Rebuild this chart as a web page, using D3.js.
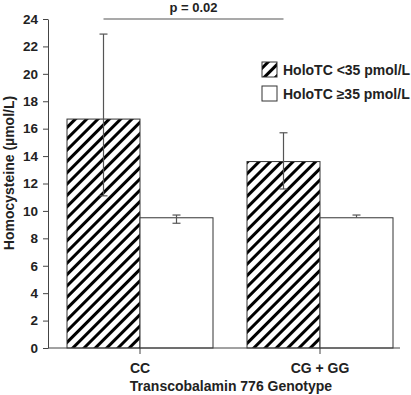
<!DOCTYPE html>
<html>
<head>
<meta charset="utf-8">
<script src="https://cdn.jsdelivr.net/npm/d3@7"></script>
<style>
  body { margin: 0; background: #fff; }
  text { font-family: "Liberation Sans", Arial, Helvetica, sans-serif; font-weight: bold; }
</style>
</head>
<body>
<svg id="chart" width="411" height="395"></svg>
<script>
var groups = ["CC", "CG + GG"];
var series = ["HoloTC <35 pmol/L", "HoloTC \u226535 pmol/L"];
var means = [[16.7, 9.5], [13.6, 9.5]];
var errHi = [[22.9, 9.7], [15.7, 9.7]];
var errLo = [[11.1, 9.1], [11.6, 9.5]];
var yTicks = [0, 2, 4, 6, 8, 10, 12, 14, 16, 18, 20, 22, 24];
var pText = "p = 0.02";

var svg = d3.select("#chart");
var defs = svg.append("defs");
var pat = defs.append("pattern")
  .attr("id", "hatch")
  .attr("patternUnits", "userSpaceOnUse")
  .attr("width", 8).attr("height", 8)
  .attr("patternTransform", "rotate(45)");
pat.append("rect").attr("width", 8).attr("height", 8).attr("fill", "#fff");
pat.append("rect").attr("x", 0).attr("width", 3).attr("height", 8).attr("fill", "#000");

var y = d3.scaleLinear().domain([0, 24]).range([348, 19]);
var x0 = d3.scaleBand().domain(groups).range([50, 410]);
var barW = 73;

function x1(gi) {
  var g = groups[gi];
  var c = x0(g) + x0.bandwidth() / 2;
  return d3.scaleBand().domain(series).range([c - barW, c + barW]);
}

// bars
var data = [];
groups.forEach(function (g, gi) {
  series.forEach(function (s, si) {
    data.push({ g: gi, s: si, v: means[gi][si], hi: errHi[gi][si], lo: errLo[gi][si] });
  });
});

svg.append("g").selectAll("rect")
  .data(data)
  .enter()
  .append("rect")
  .attr("x", function (d) { return x1(d.g)(series[d.s]); })
  .attr("y", function (d) { return y(d.v); })
  .attr("width", barW)
  .attr("height", function (d) { return y(0) - y(d.v); })
  .attr("fill", function (d) { return d.s === 0 ? "url(#hatch)" : "#fff"; })
  .attr("stroke", "#333")
  .attr("stroke-width", 1);

// error bars
var eb = svg.append("g").attr("stroke", "#555").attr("stroke-width", 1.2);
data.forEach(function (d) {
  var cx = x1(d.g)(series[d.s]) + barW / 2;
  eb.append("line").attr("x1", cx).attr("x2", cx).attr("y1", y(d.lo)).attr("y2", y(d.hi));
  eb.append("line").attr("x1", cx - 4).attr("x2", cx + 4).attr("y1", y(d.hi)).attr("y2", y(d.hi));
  if (d.lo < d.v) {
    eb.append("line").attr("x1", cx - 4).attr("x2", cx + 4).attr("y1", y(d.lo)).attr("y2", y(d.lo));
  }
});

// y axis
var yAxis = svg.append("g")
  .attr("transform", "translate(48,0)")
  .call(d3.axisLeft(y).tickValues(yTicks).tickSize(5).tickSizeOuter(0).tickPadding(5));
yAxis.selectAll("text").attr("font-size", 13.5).attr("fill", "#222")
  .style("font-family", "'Liberation Sans', Arial, sans-serif").style("font-weight", "bold");
yAxis.selectAll("line, path").attr("stroke", "#444");

// x axis
svg.append("line").attr("x1", 48).attr("x2", 400).attr("y1", y(0)).attr("y2", y(0))
  .attr("stroke", "#444");
var xAxis = svg.append("g")
  .attr("transform", "translate(0," + y(0) + ")")
  .call(d3.axisBottom(x0).tickSize(6).tickSizeOuter(0).tickPadding(9));
xAxis.select(".domain").remove();
xAxis.selectAll("line").attr("stroke", "#444");
xAxis.selectAll("text").attr("font-size", 14).attr("fill", "#222")
  .style("font-family", "'Liberation Sans', Arial, sans-serif").style("font-weight", "bold");

svg.append("text")
  .attr("x", 231).attr("y", 391)
  .attr("text-anchor", "middle").attr("font-size", 14).attr("fill", "#222")
  .text("Transcobalamin 776 Genotype");

svg.append("text")
  .attr("transform", "translate(14,173) rotate(-90)")
  .attr("text-anchor", "middle").attr("font-size", 14).attr("fill", "#222")
  .text("Homocysteine (\u00b5mol/L)");

// significance bracket
var pxA = x1(0)(series[0]) + barW / 2;
var pxB = x1(1)(series[0]) + barW / 2;
svg.append("line").attr("x1", pxA).attr("x2", pxB).attr("y1", y(24)).attr("y2", y(24))
  .attr("stroke", "#555").attr("stroke-width", 1.2);
svg.append("text")
  .attr("x", (pxA + pxB) / 2).attr("y", 12)
  .attr("text-anchor", "middle").attr("font-size", 13).attr("fill", "#222")
  .text(pText);

// legend
var leg = svg.append("g");
series.forEach(function (s, i) {
  var ly = 62 + i * 24;
  leg.append("rect").attr("x", 262).attr("y", ly).attr("width", 15).attr("height", 15)
    .attr("fill", i === 0 ? "url(#hatch)" : "#fff").attr("stroke", "#333");
  leg.append("text").attr("x", 283).attr("y", ly + 12.5)
    .attr("font-size", 14).attr("fill", "#222").text(s);
});
</script>
</body>
</html>
